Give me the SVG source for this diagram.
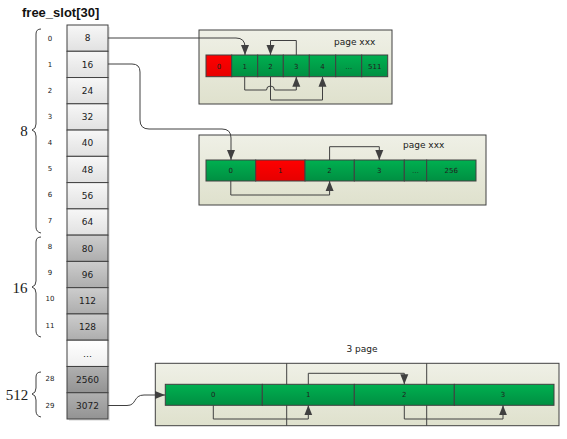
<svg xmlns="http://www.w3.org/2000/svg" width="567" height="439" viewBox="0 0 567 439">
<defs>
<linearGradient id="gL" x1="0" y1="0" x2="0" y2="1"><stop offset="0" stop-color="#f7f7f7"/><stop offset="1" stop-color="#e1e1e1"/></linearGradient>
<linearGradient id="gM" x1="0" y1="0" x2="0" y2="1"><stop offset="0" stop-color="#cdcdcd"/><stop offset="1" stop-color="#adadad"/></linearGradient>
<linearGradient id="gW" x1="0" y1="0" x2="0" y2="1"><stop offset="0" stop-color="#ffffff"/><stop offset="1" stop-color="#efefef"/></linearGradient>
<linearGradient id="gD" x1="0" y1="0" x2="0" y2="1"><stop offset="0" stop-color="#b0b0b0"/><stop offset="1" stop-color="#939393"/></linearGradient>
<linearGradient id="gG" x1="0" y1="0" x2="0" y2="1"><stop offset="0" stop-color="#00b050"/><stop offset="1" stop-color="#008f42"/></linearGradient>
<linearGradient id="gR" x1="0" y1="0" x2="0" y2="1"><stop offset="0" stop-color="#ff0000"/><stop offset="1" stop-color="#e60000"/></linearGradient>
<linearGradient id="gB" x1="0" y1="0" x2="0" y2="1"><stop offset="0" stop-color="#eff0e6"/><stop offset="1" stop-color="#dfe1cd"/></linearGradient>
<marker id="ar" markerUnits="userSpaceOnUse" markerWidth="10" markerHeight="10" viewBox="0 0 10 10" refX="10" refY="5" orient="auto">
<path d="M0,1 L10,5 L0,9 Z" fill="#404040"/>
</marker>
<style>
.c{stroke:#404040;stroke-width:1}
.t{font-family:"DejaVu Sans",sans-serif;fill:#202020;text-anchor:middle}
.ct{font-size:9px}
.ix{font-size:7px}
.pt{font-size:7px}
.br{fill:none;stroke:#404040;stroke-width:1}
.bl{font-family:"Liberation Serif",serif;font-size:15px;fill:#202020;text-anchor:middle}
.box{fill:url(#gB);stroke:#404040;stroke-width:1}
.ln{fill:none;stroke:#404040;stroke-width:1}
</style>
</defs>
<rect width="567" height="439" fill="#ffffff"/>
<text x="22" y="17" font-family="Liberation Sans,sans-serif" font-weight="bold" font-size="13" fill="#111">free_slot[30]</text>

<g id="free_slot">
<rect x="69" y="27" width="41" height="394" fill="#d8d8d8" opacity="0.6"/>
<rect class="c" x="67" y="25" width="41" height="26.27" fill="url(#gL)"/>
<rect class="c" x="67" y="51.27" width="41" height="26.27" fill="url(#gL)"/>
<rect class="c" x="67" y="77.53" width="41" height="26.27" fill="url(#gL)"/>
<rect class="c" x="67" y="103.8" width="41" height="26.27" fill="url(#gL)"/>
<rect class="c" x="67" y="130.07" width="41" height="26.27" fill="url(#gL)"/>
<rect class="c" x="67" y="156.33" width="41" height="26.27" fill="url(#gL)"/>
<rect class="c" x="67" y="182.6" width="41" height="26.27" fill="url(#gL)"/>
<rect class="c" x="67" y="208.87" width="41" height="26.27" fill="url(#gL)"/>
<rect class="c" x="67" y="235.13" width="41" height="26.27" fill="url(#gM)"/>
<rect class="c" x="67" y="261.4" width="41" height="26.27" fill="url(#gM)"/>
<rect class="c" x="67" y="287.67" width="41" height="26.27" fill="url(#gM)"/>
<rect class="c" x="67" y="313.93" width="41" height="26.27" fill="url(#gM)"/>
<rect class="c" x="67" y="340.2" width="41" height="26.27" fill="url(#gW)"/>
<rect class="c" x="67" y="366.47" width="41" height="26.27" fill="url(#gD)"/>
<rect class="c" x="67" y="392.73" width="41" height="26.27" fill="url(#gD)"/>
<g class="t ct">
<text x="87.5" y="41.3">8</text>
<text x="87.5" y="67.6">16</text>
<text x="87.5" y="93.9">24</text>
<text x="87.5" y="120.1">32</text>
<text x="87.5" y="146.4">40</text>
<text x="87.5" y="172.7">48</text>
<text x="87.5" y="198.9">56</text>
<text x="87.5" y="225.2">64</text>
<text x="87.5" y="251.5">80</text>
<text x="87.5" y="277.7">96</text>
<text x="87.5" y="304">112</text>
<text x="87.5" y="330.3">128</text>
<text x="87.5" y="356.5">…</text>
<text x="87.5" y="382.8">2560</text>
<text x="87.5" y="409.1">3072</text>
</g>
<g class="t ix">
<text x="50" y="41">0</text>
<text x="50" y="67">1</text>
<text x="50" y="93">2</text>
<text x="50" y="119">3</text>
<text x="50" y="145">4</text>
<text x="50" y="171">5</text>
<text x="50" y="197">6</text>
<text x="50" y="223">7</text>
<text x="50" y="249">8</text>
<text x="50" y="275">9</text>
<text x="50" y="301">10</text>
<text x="50" y="328">11</text>
<text x="50" y="381">28</text>
<text x="50" y="408">29</text>
</g>
</g>

<g id="braces">
<path class="br" d="M41,29 Q36,29 36,34 V124 Q36,129 32,130 Q36,131 36,136 V227 Q36,232 41,233"/>
<text class="bl" x="24" y="136">8</text>
<path class="br" d="M41,237 Q36,237 36,242 V281 Q36,286 32,287 Q36,288 36,293 V331 Q36,336 41,337"/>
<text class="bl" x="20" y="293">16</text>
<path class="br" d="M41,372 Q36,372 36,377 V388 Q36,393 32,394 Q36,395 36,400 V411 Q36,416 41,417"/>
<text class="bl" x="17" y="400">512</text>
</g>

<g id="page1">
<rect class="box" x="199" y="30" width="193" height="74"/>
<text x="334" y="45" font-family="DejaVu Sans,sans-serif" font-size="9" fill="#202020">page xxx</text>
<rect class="c" x="206" y="55" width="25.7" height="21.7" fill="url(#gR)"/>
<rect class="c" x="231.7" y="55" width="26" height="21.7" fill="url(#gG)"/>
<rect class="c" x="257.7" y="55" width="25.6" height="21.7" fill="url(#gG)"/>
<rect class="c" x="283.3" y="55" width="26" height="21.7" fill="url(#gG)"/>
<rect class="c" x="309.3" y="55" width="26.4" height="21.7" fill="url(#gG)"/>
<rect class="c" x="335.7" y="55" width="26" height="21.7" fill="url(#gG)"/>
<rect class="c" x="361.7" y="55" width="26" height="21.7" fill="url(#gG)"/>
<g class="t pt">
<text x="218.9" y="68.5">0</text>
<text x="244.7" y="68.5">1</text>
<text x="270.5" y="68.5">2</text>
<text x="296.3" y="68.5">3</text>
<text x="322.5" y="68.5">4</text>
<text x="348.7" y="68.5">…</text>
<text x="374.7" y="68.5">511</text>
</g>
</g>

<g id="page2">
<rect class="box" x="199" y="135" width="287" height="70"/>
<text x="403" y="148" font-family="DejaVu Sans,sans-serif" font-size="9" fill="#202020">page xxx</text>
<rect class="c" x="206" y="160" width="49.7" height="21" fill="url(#gG)"/>
<rect class="c" x="255.7" y="160" width="49.3" height="21" fill="url(#gR)"/>
<rect class="c" x="305" y="160" width="49.3" height="21" fill="url(#gG)"/>
<rect class="c" x="354.3" y="160" width="50" height="21" fill="url(#gG)"/>
<rect class="c" x="404.3" y="160" width="22.4" height="21" fill="url(#gG)"/>
<rect class="c" x="426.7" y="160" width="49.3" height="21" fill="url(#gG)"/>
<g class="t pt">
<text x="230.8" y="173">0</text>
<text x="280.3" y="173">1</text>
<text x="329.6" y="173">2</text>
<text x="379.3" y="173">3</text>
<text x="415.5" y="173">…</text>
<text x="451.3" y="173">256</text>
</g>
</g>

<g id="page3">
<rect class="box" x="155.3" y="363.3" width="403.7" height="62.4"/>
<line class="c" x1="286.7" y1="363.3" x2="286.7" y2="425.7"/>
<line class="c" x1="426.7" y1="363.3" x2="426.7" y2="425.7"/>
<text x="346.5" y="352" font-family="DejaVu Sans,sans-serif" font-size="9" fill="#202020">3 page</text>
<rect class="c" x="165.3" y="384.3" width="97" height="21" fill="url(#gG)"/>
<rect class="c" x="262.3" y="384.3" width="92" height="21" fill="url(#gG)"/>
<rect class="c" x="354.3" y="384.3" width="100" height="21" fill="url(#gG)"/>
<rect class="c" x="454.3" y="384.3" width="99.7" height="21" fill="url(#gG)"/>
<g class="t pt">
<text x="213.3" y="397.3">0</text>
<text x="308.3" y="397.3">1</text>
<text x="404.3" y="397.3">2</text>
<text x="503" y="397.3">3</text>
</g>
</g>

<g id="connectors">
<path class="ln" d="M108,38 H236 Q245,38 245,47 V55" marker-end="url(#ar)"/>
<path class="ln" d="M108,64 H132 Q140,64 140,72 V120 Q140,129 149,129 H222 Q231,129 231,138 V160" marker-end="url(#ar)"/>
<path class="ln" d="M108,405.5 H127 C137,405.5 133,395 144,395 H165" marker-end="url(#ar)"/>
<path class="ln" d="M296.3,55 V40.5 H270.5 V55" marker-end="url(#ar)"/>
<path class="ln" d="M244.7,76.7 V90 H266.5 A4,4 0 0 1 274.5,90 H296.3 V76.7" marker-end="url(#ar)"/>
<path class="ln" d="M270.5,76.7 V100 H322.5 V76.7" marker-end="url(#ar)"/>
<path class="ln" d="M329.6,160 V146.7 H379.3 V160" marker-end="url(#ar)"/>
<path class="ln" d="M230.8,181 V195 H329.6 V181" marker-end="url(#ar)"/>
<path class="ln" d="M308.3,384.3 V373.3 H404.3 V384.3" marker-end="url(#ar)"/>
<path class="ln" d="M213.3,405.3 V419 H308.3 V405.3" marker-end="url(#ar)"/>
<path class="ln" d="M404.3,405.3 V419 H503 V405.3" marker-end="url(#ar)"/>
</g>
</svg>
